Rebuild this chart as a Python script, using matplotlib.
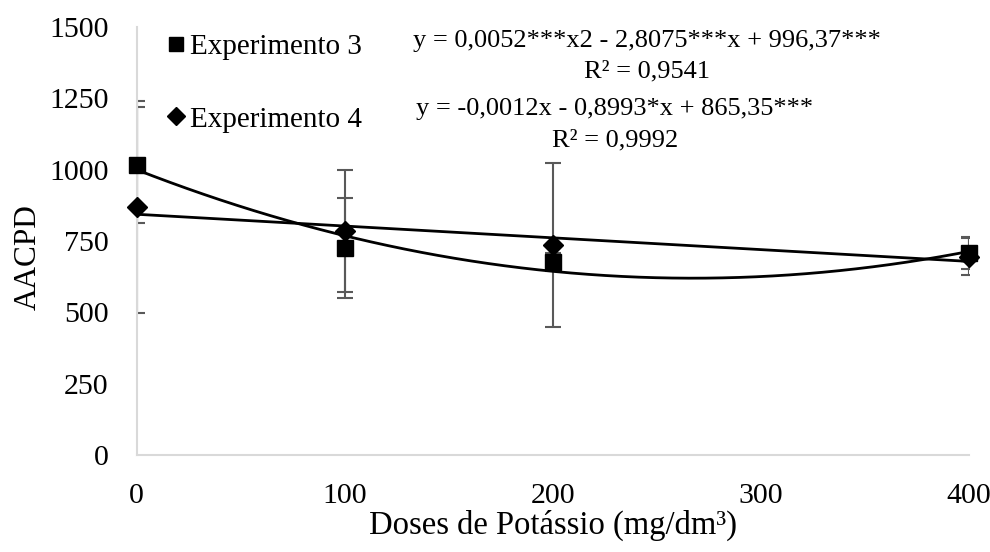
import numpy as np
import matplotlib.pyplot as plt
plt.rcParams["font.family"] = ["Liberation Serif", "DejaVu Serif"]

doses = [0, 100, 200, 400]
exp3 = [1016, 725, 676, 708]
exp3_err = [203, 175, 30, 55]
exp4 = [869, 785, 736, 695]
exp4_err = [371, 215, 287, 65]

eq3 = ["y = 0,0052***x2 - 2,8075***x + 996,37***", "R² = 0,9541"]
eq4 = ["y = -0,0012x - 0,8993*x + 865,35***", "R² = 0,9992"]

fig = plt.figure(figsize=(9.9, 5.52), dpi=100)
ax = fig.add_axes([0.138, 0.176, 0.841, 0.775])

ax.errorbar(doses, exp3, yerr=exp3_err, fmt="none", ecolor="#595959",
            elinewidth=1.5, capsize=6, capthick=1.5, zorder=2)
ax.errorbar(doses, exp4, yerr=exp4_err, fmt="none", ecolor="#595959",
            elinewidth=1.5, capsize=6, capthick=1.5, zorder=2)

# trendlines fitted on the data (quadratic for exp 3, linear for exp 4)
xx = np.linspace(0, 400, 200)
c3 = np.polyfit(doses, exp3, 2)
c4 = np.polyfit(doses, exp4, 1)
ax.plot(xx, np.polyval(c3, xx), c="k", lw=2, zorder=3)
ax.plot(xx, np.polyval(c4, xx), c="k", lw=2, zorder=3)

ax.plot(doses, exp4, "D", c="k", markersize=10, label="Experimento 4",
        clip_on=False, zorder=4)
ax.plot(doses, exp3, "s", c="k", markersize=11, label="Experimento 3",
        clip_on=False, zorder=5)

h, l = ax.get_legend_handles_labels()
ax.legend(h[::-1], l[::-1], loc="upper left", bbox_to_anchor=(0.005, 1.045),
          frameon=False, fontsize=21, handlelength=0.6, handletextpad=0.2,
          labelspacing=1.57, markerscale=0.95)

# equation labels, one text per line
fig.text(0.6535, 0.9149, eq3[0], ha="center", va="baseline", fontsize=19)
fig.text(0.6535, 0.8605, eq3[1], ha="center", va="baseline", fontsize=19)
fig.text(0.621, 0.7917, eq4[0], ha="center", va="baseline", fontsize=19)
fig.text(0.621, 0.7355, eq4[1], ha="center", va="baseline", fontsize=19)

ax.set_xlim(0, 400)
ax.set_ylim(0, 1500)
ax.set_xticks([0, 100, 200, 300, 400])
ax.set_yticks([0, 250, 500, 750, 1000, 1250, 1500])
ax.tick_params(length=0, labelsize=21.5, pad=20)
for s in ["top", "right"]:
    ax.spines[s].set_visible(False)
for s in ["left", "bottom"]:
    ax.spines[s].set_color("#d9d9d9")
    ax.spines[s].set_linewidth(1.5)

ax.set_xlabel("Doses de Potássio (mg/dm³)", fontsize=23.5, labelpad=1)
ax.set_ylabel("AACPD", fontsize=22.5, labelpad=5, y=0.463)

plt.savefig("out.png", dpi=100)
